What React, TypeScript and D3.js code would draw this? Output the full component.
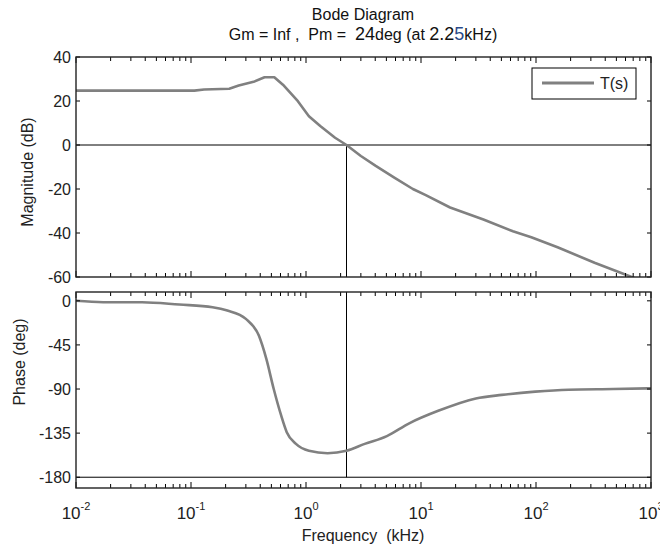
import React from 'react';
import * as d3 from 'd3';

// magnitude trace (kHz, dB)
const magFreq = [0.01, 0.107, 0.13, 0.215, 0.26, 0.35, 0.436, 0.53, 0.63, 0.85, 1.06, 1.33, 1.79, 2.25, 3.0, 4.04, 5.86, 8.5, 11, 17.9, 34.9, 63, 91, 154, 323, 679, 1000];
const magDb = [24.7, 24.7, 25.2, 25.6, 27, 28.7, 30.8, 30.8, 27.4, 19.9, 13.1, 8.6, 3.3, 0, -5, -9.5, -14.8, -20, -22.8, -28.4, -33.9, -39.2, -41.9, -46.5, -53.5, -60, -63.4];

// phase trace (kHz, deg)
const phaseFreq = [0.01, 0.0172, 0.0375, 0.079, 0.154, 0.207, 0.3, 0.389, 0.452, 0.524, 0.608, 0.68, 0.818, 1.06, 1.54, 2.25, 3.24, 5.05, 7.9, 14.3, 30, 50.4, 98.6, 192, 469, 1000];
const phaseDeg = [0, -1.4, -1.4, -3.8, -6.5, -9.9, -18.4, -35.5, -59.3, -90, -117, -134, -146, -153, -155.5, -153, -146, -138, -125, -112, -99.6, -96, -92.7, -90.7, -90, -89.3];

const magTicks = [40, 20, 0, -20, -40, -60];
const phaseTicks = [0, -45, -90, -135, -180];
const decades = [-2, -1, 0, 1, 2, 3];
const crossFreq = 2.25;
const legendLabel = 'T(s)';

const FONT = '"Liberation Sans", Arial, Helvetica, sans-serif';
const LINE = '#808080';

const left = 76, right = 651;
const magTop = 57, magBottom = 277;
const phTop = 292, phBottom = 488;

export default function App() {
  const x = d3.scaleLog().domain([0.01, 1000]).range([left, right]);
  const yMag = d3.scaleLinear().domain([-60, 40]).range([magBottom, magTop]);
  const yPh = d3.scaleLinear().domain([-191, 9]).range([phBottom, phTop]);

  const magPts = magFreq.map((f, i) => [f, magDb[i]] as [number, number]);
  const phPts = phaseFreq.map((f, i) => [f, phaseDeg[i]] as [number, number]);

  const magLine = d3.line<[number, number]>().x(d => x(d[0])).y(d => yMag(d[1]));
  const phLine = d3.line<[number, number]>().x(d => x(d[0])).y(d => yPh(d[1])).curve(d3.curveMonotoneX);

  // minor + decade tick positions
  const xTicks: { v: number; major: boolean }[] = [];
  decades.forEach(e => {
    xTicks.push({ v: Math.pow(10, e), major: true });
    if (e < 3) for (let k = 2; k <= 9; k++) xTicks.push({ v: k * Math.pow(10, e), major: false });
  });

  const edgeTicks = (top: number, bottom: number, key: string) =>
    xTicks.map((t, i) => {
      const len = t.major ? 6 : 4;
      const px = x(t.v);
      return (
        <g key={key + i}>
          <line x1={px} x2={px} y1={top} y2={top + len} stroke="#000" strokeWidth={1} />
          <line x1={px} x2={px} y1={bottom} y2={bottom - len} stroke="#000" strokeWidth={1} />
        </g>
      );
    });

  const cx = x(crossFreq);

  return (
    <svg width={660} height={546} style={{ position: 'absolute', left: 0, top: 0, background: '#fff' }} fontFamily={FONT}>
      <defs>
        <clipPath id="clipMag"><rect x={left} y={magTop} width={right - left} height={magBottom - magTop} /></clipPath>
        <clipPath id="clipPh"><rect x={left} y={phTop} width={right - left} height={phBottom - phTop} /></clipPath>
      </defs>

      {/* title */}
      <text x={363} y={20} textAnchor="middle" fontSize={16} fill="#111">Bode Diagram</text>
      <text x={363} y={40} textAnchor="middle" fontSize={16} fill="#111" style={{ whiteSpace: 'pre' }}>
        <tspan>{'Gm = Inf ,  Pm =  '}</tspan>
        <tspan fontSize={18}>24</tspan>
        <tspan>{'deg (at '}</tspan>
        <tspan fontSize={18}>2.2</tspan>
        <tspan fontSize={18} fill="#2a4a8a">5</tspan>
        <tspan>kHz)</tspan>
      </text>

      {/* magnitude panel */}
      <line x1={left} x2={right} y1={yMag(0)} y2={yMag(0)} stroke="#000" strokeWidth={1} />
      <line x1={cx} x2={cx} y1={yMag(0)} y2={magBottom} stroke="#000" strokeWidth={1} />
      <path d={magLine(magPts) || ''} fill="none" stroke={LINE} strokeWidth={2.6} clipPath="url(#clipMag)" strokeLinejoin="round" />
      {edgeTicks(magTop, magBottom, 'm')}
      {magTicks.map(t => (
        <g key={'mt' + t}>
          <line x1={left} x2={left + 4} y1={yMag(t)} y2={yMag(t)} stroke="#000" />
          <line x1={right} x2={right - 4} y1={yMag(t)} y2={yMag(t)} stroke="#000" />
          <text x={71} y={yMag(t)} dy="0.36em" textAnchor="end" fontSize={16} fill="#222">{t}</text>
        </g>
      ))}
      <rect x={left} y={magTop} width={right - left} height={magBottom - magTop} fill="none" stroke="#222" strokeWidth={1.4} />
      <text transform={`translate(33,172) rotate(-90)`} textAnchor="middle" fontSize={16} fill="#222">Magnitude (dB)</text>

      {/* legend */}
      <rect x={532} y={68} width={104} height={31} fill="#fff" stroke="#000" strokeWidth={1} />
      <line x1={542} x2={594} y1={83} y2={83} stroke={LINE} strokeWidth={3} />
      <text x={600} y={89} fontSize={16} fill="#222">{legendLabel}</text>

      {/* phase panel */}
      <line x1={left} x2={right} y1={yPh(-180)} y2={yPh(-180)} stroke="#000" strokeWidth={1} />
      <line x1={cx} x2={cx} y1={phTop} y2={yPh(-180)} stroke="#000" strokeWidth={1} />
      <path d={phLine(phPts) || ''} fill="none" stroke={LINE} strokeWidth={2.6} clipPath="url(#clipPh)" />
      {edgeTicks(phTop, phBottom, 'p')}
      {phaseTicks.map(t => (
        <g key={'pt' + t}>
          <line x1={left} x2={left + 4} y1={yPh(t)} y2={yPh(t)} stroke="#000" />
          <line x1={right} x2={right - 4} y1={yPh(t)} y2={yPh(t)} stroke="#000" />
          <text x={71} y={yPh(t)} dy="0.36em" textAnchor="end" fontSize={16} fill="#222">{t}</text>
        </g>
      ))}
      <rect x={left} y={phTop} width={right - left} height={phBottom - phTop} fill="none" stroke="#222" strokeWidth={1.4} />
      <text transform={`translate(25,362) rotate(-90)`} textAnchor="middle" fontSize={16} fill="#222">Phase (deg)</text>

      {/* frequency axis labels */}
      {decades.map(e => (
        <text key={'xl' + e} x={x(Math.pow(10, e))} y={519} textAnchor="middle" fontSize={17} fill="#222">
          <tspan>10</tspan>
          <tspan fontSize={11} dy={-9}>{e}</tspan>
        </text>
      ))}
      <text x={363} y={541} textAnchor="middle" fontSize={16} fill="#222" style={{ whiteSpace: 'pre' }}>{'Frequency  (kHz)'}</text>
    </svg>
  );
}
